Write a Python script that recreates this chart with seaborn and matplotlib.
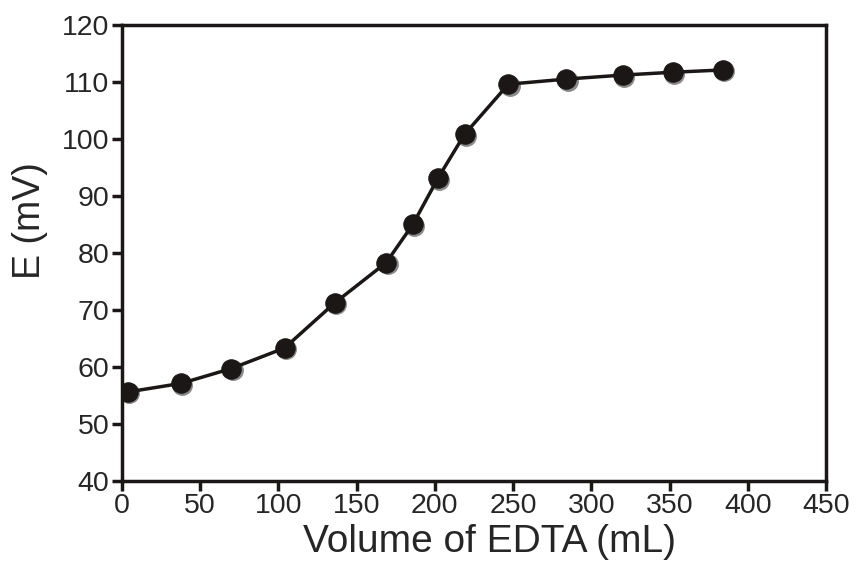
import numpy as np
import pandas as pd
import matplotlib
matplotlib.use("Agg")
import matplotlib.pyplot as plt
import seaborn as sns

# titration data
volume = [4, 38, 70, 104, 136, 169, 186, 202, 219, 247, 284, 320, 352, 384]
potential = [55.6, 57.1, 59.7, 63.3, 71.2, 78.3, 85.0, 93.1, 100.8, 109.6, 110.5, 111.2, 111.7, 112.1]

df = pd.DataFrame({"Volume": volume, "E": potential})

sns.set_style("ticks")
plt.rcParams['font.family'] = ['Liberation Sans', 'DejaVu Sans']

fig = plt.figure(figsize=(8.57, 5.67), dpi=100)
ax = fig.add_axes([0.142, 0.152, 0.822, 0.804])

ink = '#1c1717'
# faint grey offset shadow under the markers
ax.plot(df.Volume + 0.8, df.E - 0.25, 'o', ms=14, color='#8a8a8a', zorder=2, linestyle='none')
sns.lineplot(data=df, x="Volume", y="E", color=ink, linewidth=2.5, marker='o',
             markersize=14, markeredgecolor=ink, markerfacecolor=ink, ax=ax, zorder=3)

ax.set_xlim(0, 450)
ax.set_ylim(40, 120)
ax.set_xticks(range(0, 451, 50))
ax.set_yticks(range(40, 121, 10))
ax.set_xlabel("Volume of EDTA (mL)", fontsize=28)
ax.set_ylabel("E (mV)", fontsize=27)
ax.xaxis.set_label_coords(0.522, -0.095)
ax.yaxis.set_label_coords(-0.105, 0.57)
ax.tick_params(labelsize=20.5, width=2.5, length=7, color=ink, pad=2)
for s in ax.spines.values():
    s.set_linewidth(2.5)
    s.set_color(ink)

fig.savefig("out.png", dpi=100)
